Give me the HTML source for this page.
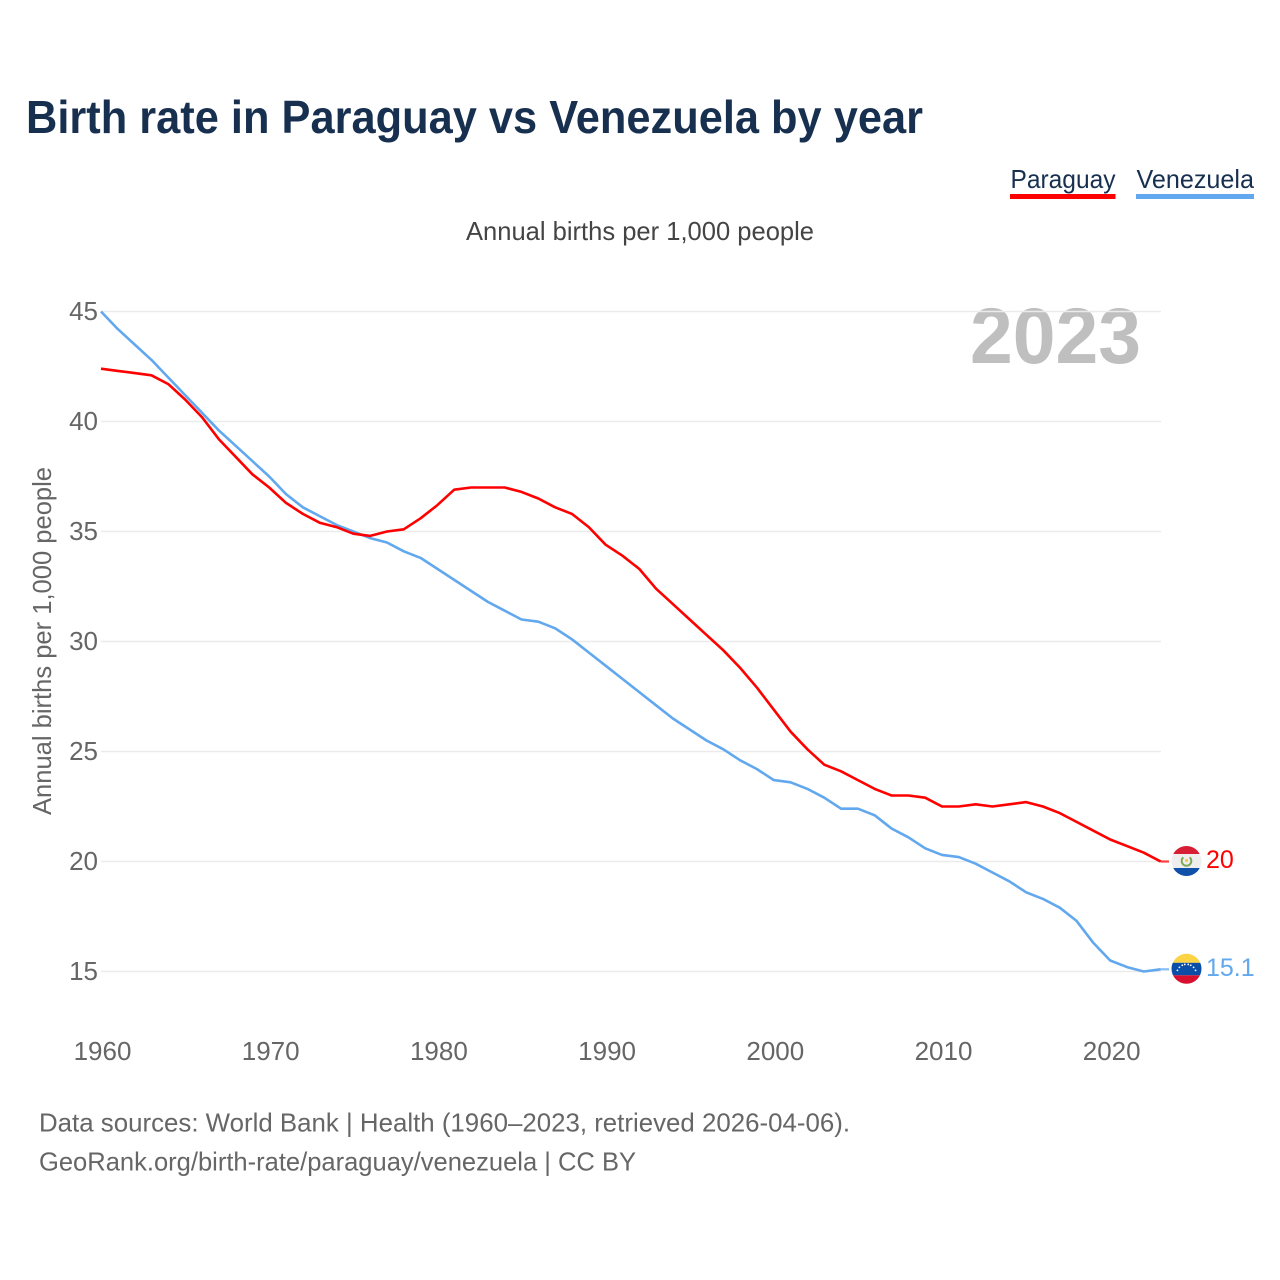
<!DOCTYPE html>
<html lang="en">
<head>
<meta charset="utf-8">
<title>Birth rate in Paraguay vs Venezuela by year</title>
<style>
html,body{margin:0;padding:0;background:#fff;}
svg{display:block;font-family:"Liberation Sans",sans-serif;}
</style>
</head>
<body>
<svg id="chart" width="1280" height="1280" viewBox="0 0 1280 1280" xmlns="http://www.w3.org/2000/svg">
  <defs>
    <clipPath id="flag-clip"><circle cx="0" cy="0" r="15"></circle></clipPath>
  </defs>
  <rect x="0" y="0" width="1280" height="1280" fill="#ffffff"></rect>
  <text x="26" y="133" font-size="46" font-weight="700" fill="#18304f" textLength="897" lengthAdjust="spacingAndGlyphs">Birth rate in Paraguay vs Venezuela by year</text>

  <g>
    <text x="1010.500" y="188" font-size="26" fill="#18304f" textLength="105" lengthAdjust="spacingAndGlyphs">Paraguay</text>
    <rect x="1010" y="194" width="105.500" height="5" fill="#ff0000"></rect>
  </g>
  <g>
    <text x="1136.500" y="188" font-size="26" fill="#18304f" textLength="117.500" lengthAdjust="spacingAndGlyphs">Venezuela</text>
    <rect x="1136" y="194" width="118" height="5" fill="#62a8ee"></rect>
  </g>

  <text x="466" y="240" font-size="26" fill="#444444" textLength="348" lengthAdjust="spacingAndGlyphs">Annual births per 1,000 people</text>

  <text x="970" y="363" font-size="79" font-weight="700" fill="#bfbfbf" textLength="171" lengthAdjust="spacingAndGlyphs">2023</text>

  <g id="grid"></g>
  <g id="y-ticks"></g>
  <g id="x-ticks"></g>

  <text transform="translate(51,815) rotate(-90)" x="0" y="0" font-size="26" fill="#666666" textLength="348" lengthAdjust="spacingAndGlyphs">Annual births per 1,000 people</text>

  <g id="series"></g>
  <g id="end-markers"></g>

  <text x="39" y="1131.500" font-size="26" fill="#666666" textLength="811" lengthAdjust="spacingAndGlyphs">Data sources: World Bank | Health (1960–2023, retrieved 2026-04-06).</text>
  <text x="39" y="1170.500" font-size="26" fill="#666666" textLength="597" lengthAdjust="spacingAndGlyphs">GeoRank.org/birth-rate/paraguay/venezuela | CC BY</text>
</svg>
<script>
const startYear = 1960;
const paraguayValues = [42.4,42.3,42.2,42.1,41.7,41.0,40.2,39.2,38.4,37.6,37.0,36.3,35.8,35.4,35.2,34.9,34.8,35.0,35.1,35.6,36.2,36.9,37.0,37.0,37.0,36.8,36.5,36.1,35.8,35.2,34.4,33.9,33.3,32.4,31.7,31.0,30.3,29.6,28.8,27.9,26.9,25.9,25.1,24.4,24.1,23.7,23.3,23.0,23.0,22.9,22.5,22.5,22.6,22.5,22.6,22.7,22.5,22.2,21.8,21.4,21.0,20.7,20.4,20.0];
const venezuelaValues = [45.0,44.2,43.5,42.8,42.0,41.2,40.4,39.6,38.9,38.2,37.5,36.7,36.1,35.7,35.3,35.0,34.7,34.5,34.1,33.8,33.3,32.8,32.3,31.8,31.4,31.0,30.9,30.6,30.1,29.5,28.9,28.3,27.7,27.1,26.5,26.0,25.5,25.1,24.6,24.2,23.7,23.6,23.3,22.9,22.4,22.4,22.1,21.5,21.1,20.6,20.3,20.2,19.9,19.5,19.1,18.6,18.3,17.9,17.3,16.3,15.5,15.2,15.0,15.1];
const yTickValues = [15,20,25,30,35,40,45];
const xTickYears = [1960,1970,1980,1990,2000,2010,2020];

const NS = 'http://www.w3.org/2000/svg';
function xScale(year){ return 101 + (year - 1960) * 16.82; }
function yScale(v){ return 971.5 - (v - 15) * 22; }
function make(tag, attrs, parent){
  const el = document.createElementNS(NS, tag);
  for (const k in attrs) el.setAttribute(k, attrs[k]);
  parent.appendChild(el);
  return el;
}

const grid = document.getElementById('grid');
const yTicks = document.getElementById('y-ticks');
yTickValues.forEach(function(v){
  const line = make('line', {x1:101, x2:1161, y1:yScale(v), y2:yScale(v), stroke:'#ebebeb', 'stroke-width':1.5}, grid);
  
  
  const t = make('text', {x:98, y:yScale(v) + 8.5, 'font-size':26, fill:'#666666', 'text-anchor':'end'}, yTicks);
  
  
  t.textContent = v;
});

const xTicks = document.getElementById('x-ticks');
xTickYears.forEach(function(year){
  const t = make('text', {x:xScale(year) + 1.5, y:1060, 'font-size':26, fill:'#666666', 'text-anchor':'middle'}, xTicks);
  
  
  t.textContent = year;
});

const seriesGroup = document.getElementById('series');
function drawSeries(values, colour, name){
  const pts = values.map(function(v, i){ return xScale(startYear + i).toFixed(2) + ',' + yScale(v).toFixed(2); });
  const line = make('polyline', {points:pts.join(' '), fill:'none', stroke:colour, 'stroke-width':2.6, 'stroke-linejoin':'round'}, seriesGroup);
  
  
  const endY = yScale(values[values.length - 1]);
  const endX = xScale(startYear + values.length - 1);
  const tail = make('line', {x1:endX, x2:1169, y1:endY, y2:endY, stroke:colour, 'stroke-width':2.2, 'stroke-opacity':0.75}, seriesGroup);
  
  
}
drawSeries(venezuelaValues, '#62a8ee', 'venezuela');
drawSeries(paraguayValues, '#ff0000', 'paraguay');

const markers = document.getElementById('end-markers');
function endLabel(values, colour, name){
  const last = values[values.length - 1];
  const t = make('text', {x:1206, y:yScale(last) + 6.5, 'font-size':25, fill:colour}, markers);
  
  
  t.textContent = last;
}
function flagGroup(values, name){
  const last = values[values.length - 1];
  const g = make('g', {transform:'translate(1186.5,' + (yScale(last) - 0.5) + ')', 'clip-path':'url(#flag-clip)'}, markers);
  
  
  return g;
}

const py = flagGroup(paraguayValues, 'paraguay');
make('rect', {x:-16, y:-16, width:32, height:9, fill:'#d81e34'}, py);
make('rect', {x:-16, y:-7, width:32, height:14, fill:'#eeeeee'}, py);
make('rect', {x:-16, y:7, width:32, height:9, fill:'#0f50a8'}, py);
make('path', {d:'M-3.2,-3.6 A4.8,4.8 0 1 0 3.2,-3.6', fill:'none', stroke:'#7da85a', 'stroke-width':2}, py);
make('circle', {cx:0, cy:-0.5, r:1.5, fill:'#f0c840'}, py);
endLabel(paraguayValues, '#ff0000', 'paraguay');

const ve = flagGroup(venezuelaValues, 'venezuela');
make('rect', {x:-16, y:-16, width:32, height:10, fill:'#fcd345'}, ve);
make('rect', {x:-16, y:-6, width:32, height:12.500, fill:'#0b4ea8'}, ve);
make('rect', {x:-16, y:6.5, width:32, height:10, fill:'#d8102f'}, ve);
[-155,-135,-115,-100,-80,-65,-45,-25].forEach(function(angle){
  const r = angle * Math.PI / 180;
  make('circle', {cx:10 * Math.cos(r), cy:6 + 10.500 * Math.sin(r), r:0.9, fill:'#ffffff'}, ve);
});
endLabel(venezuelaValues, '#62a8ee', 'venezuela');
</script>
</body>
</html>
